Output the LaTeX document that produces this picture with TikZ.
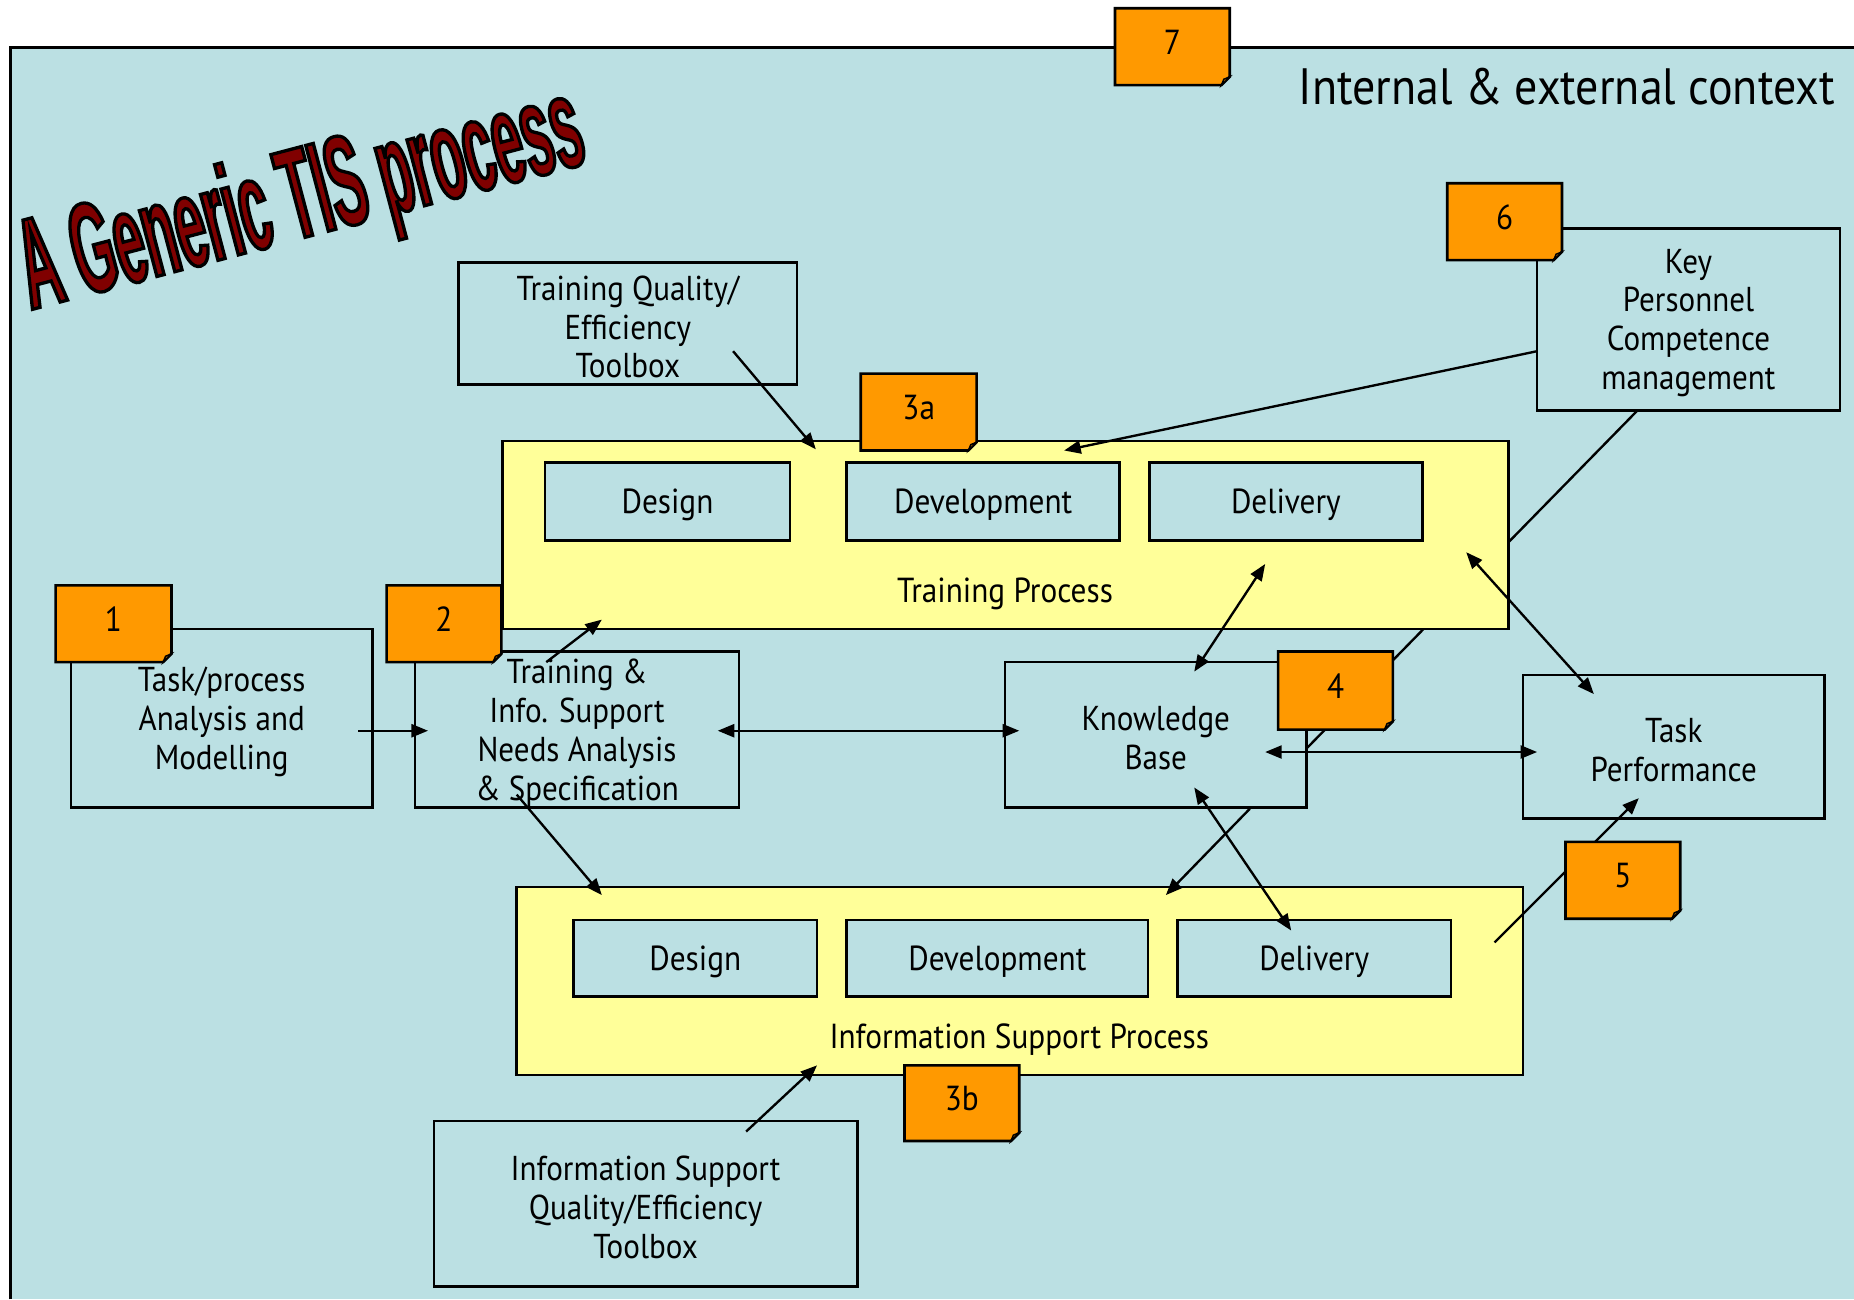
\documentclass[tikz,border=0pt]{standalone}
\usepackage{fontspec}
\setmainfont{PT Sans}[FakeStretch=0.9]
\newfontfamily\titlefont{Liberation Sans}[FakeStretch=0.42]
\usetikzlibrary{arrows.meta,calc}
\definecolor{bgblue}{RGB}{187,224,227}
\definecolor{procyellow}{RGB}{255,255,153}
\definecolor{noteorange}{RGB}{255,153,0}
\definecolor{titlered}{RGB}{128,0,0}
\newcommand\boxfont{\fontsize{14.6}{16.4}\selectfont}
\newcommand\subfont{\fontsize{14.7}{17}\selectfont}
\newcommand\rectnode[8]{%
  \node[#6, minimum width={(#4-#2)*0.5pt}, minimum height={(#5-#3)*0.5pt}] (#1) at ({(#2+#4)/2},{(#3+#5)/2}) {};
  \node[#7] (#1-t) at ($(#1.center)+(0,3)$) {#8};}
\newcommand\stickynote[6]{%
  \draw[notebox] (#2,#3) -- (#4,#3) -- (#4,#5-7) -- (#4-7,#5) -- (#2,#5) -- cycle;
  \draw[notefold] (#4-7,#5) -- (#4,#5-7) -- (#4-5,#5-5) -- cycle;
  \node[notetext] (#1) at ({(#2+#4)/2},{(#3+#5)/2-4}) {#6};}
\begin{document}
\begin{tikzpicture}[x=0.5pt,y=-0.5pt,
  frame/.style={line width=1.3pt},
  bluebox/.style={draw, line width=1.1pt, fill=bgblue, inner sep=0pt},
  yellowbox/.style={draw, line width=1.1pt, fill=procyellow, inner sep=0pt},
  boxtext/.style={inner sep=0pt, align=center, font=\boxfont},
  subtext/.style={inner sep=0pt, align=center, font=\subfont},
  plabel/.style={font=\subfont, inner sep=0pt},
  notebox/.style={draw, line width=1.1pt, fill=noteorange},
  notefold/.style={draw, line width=0.6pt, fill=noteorange!70!black},
  notetext/.style={font=\subfont, inner sep=0pt},
  conn/.style={line width=1pt},
  arr/.style={conn, -{Triangle[length=7pt,width=5.5pt]}},
  darr/.style={conn, {Triangle[length=7pt,width=5.5pt]}-{Triangle[length=7pt,width=5.5pt]}}]
\useasboundingbox (0,0) rectangle (1568,1099);
\fill[bgblue] (9,40) rectangle (1568,1099);
\draw[frame] (9,1099) -- (9,40) -- (1568,40);

% title
\node[anchor=base west, rotate=14.8, inner sep=0pt, text=titlered,
      font=\titlefont\bfseries\fontsize{54.5}{60}\selectfont] (title) at (26,262)
  {\special{pdf:literal direct 0 0 0 RG 1.4 w 2 Tr}A Generic TIS process\special{pdf:literal direct 0 Tr}};
\node[anchor=base east, inner sep=0pt, font=\fontsize{21.6}{26}\selectfont] (ctx) at (1552,88) {Internal \& external context};

% blue boxes
\rectnode{tq}{388}{222}{674}{325}{bluebox}{boxtext}{Training Quality/\\Efficiency\\Toolbox}
\rectnode{kp}{1300}{193}{1556}{347}{bluebox}{boxtext}{Key\\Personnel\\Competence\\management}
\rectnode{tpa}{60}{532}{315}{683}{bluebox}{boxtext}{Task/process\\Analysis and\\Modelling}
\rectnode{tna}{351}{551}{625}{683}{bluebox}{boxtext}{Training \&\\Info. Support\\Needs Analysis\\\& Specification}
\rectnode{kb}{850}{560}{1105}{683}{bluebox}{boxtext}{Knowledge\\Base}
\rectnode{perf}{1288}{571}{1543}{692}{bluebox}{boxtext}{Task\\Performance}
\rectnode{isq}{367}{948}{725}{1088}{bluebox}{boxtext}{Information Support\\Quality/Efficiency\\Toolbox}

% line from key personnel to knowledge base (behind boxes)
\coordinate (kpb) at (1385,347);
\coordinate (kbr) at (1105,633);
\draw[conn] (kpb) -- (kbr);

% training process
\rectnode{tp}{425}{373}{1276}{532}{yellowbox}{subtext}{}
\rectnode{tdes}{461}{391}{668}{457}{bluebox}{subtext}{Design}
\rectnode{tdev}{716}{391}{947}{457}{bluebox}{subtext}{Development}
\rectnode{tdel}{972}{391}{1203}{457}{bluebox}{subtext}{Delivery}
\node[plabel] (tplab) at (850,502) {Training Process};

% information support process
\rectnode{isp}{437}{750}{1288}{909}{yellowbox}{subtext}{}
\rectnode{ides}{485}{778}{691}{843}{bluebox}{subtext}{Design}
\rectnode{idev}{716}{778}{971}{843}{bluebox}{subtext}{Development}
\rectnode{idel}{996}{778}{1227}{843}{bluebox}{subtext}{Delivery}
\node[plabel] (isplab) at (862,879) {Information Support Process};

% line from ISP to task performance (behind note 5)
\coordinate (ispr) at (1264,797);
\coordinate (perfb) at (1386,675);
\draw[arr] (ispr) -- (perfb);

% sticky notes
\stickynote{n7}{943}{7}{1040}{72}{7}
\stickynote{n6}{1224}{155}{1321}{220}{6}
\stickynote{n3a}{728}{316}{826}{381}{3a}
\stickynote{n1}{47}{495}{145}{560}{1}
\stickynote{n2}{327}{495}{424}{560}{2}
\stickynote{n4}{1081}{551}{1178}{617}{4}
\stickynote{n5}{1324}{712}{1421}{777}{5}
\stickynote{n3b}{765}{901}{862}{965}{3b}

% connector end points
\coordinate (tqo) at (620,297);
\coordinate (tpi1) at (690,380);
\coordinate (kpl) at (1300,297);
\coordinate (tpi2) at (900,381);
\coordinate (kbt) at (1010,568);
\coordinate (tpi3) at (1070,477);
\coordinate (tpi4) at (1240,467);
\coordinate (perft) at (1348,587);
\coordinate (tpar) at (303,618);
\coordinate (tnal) at (362,618);
\coordinate (tnar) at (607,618);
\coordinate (kbl) at (862,618);
\coordinate (tnat) at (462,560);
\coordinate (tpi5) at (509,524);
\coordinate (tnab) at (437,672);
\coordinate (ispi1) at (509,757);
\coordinate (kbri) at (1070,636);
\coordinate (perfl) at (1300,636);
\coordinate (kbb) at (1057,684);
\coordinate (ispi2) at (986,757);
\coordinate (kbi) at (1010,666);
\coordinate (ideli) at (1092,787);
\coordinate (isqt) at (631,957);
\coordinate (ispi3) at (691,901);

% connectors
\draw[arr] (tqo) -- (tpi1);
\draw[arr] (kpl) -- (tpi2);
\draw[darr] (kbt) -- (tpi3);
\draw[darr] (tpi4) -- (perft);
\draw[arr] (tpar) -- (tnal);
\draw[darr] (tnar) -- (kbl);
\draw[arr] (tnat) -- (tpi5);
\draw[arr] (tnab) -- (ispi1);
\draw[darr] (kbri) -- (perfl);
\draw[arr] (kbb) -- (ispi2);
\draw[darr] (kbi) -- (ideli);
\draw[arr] (isqt) -- (ispi3);
\end{tikzpicture}
\end{document}
